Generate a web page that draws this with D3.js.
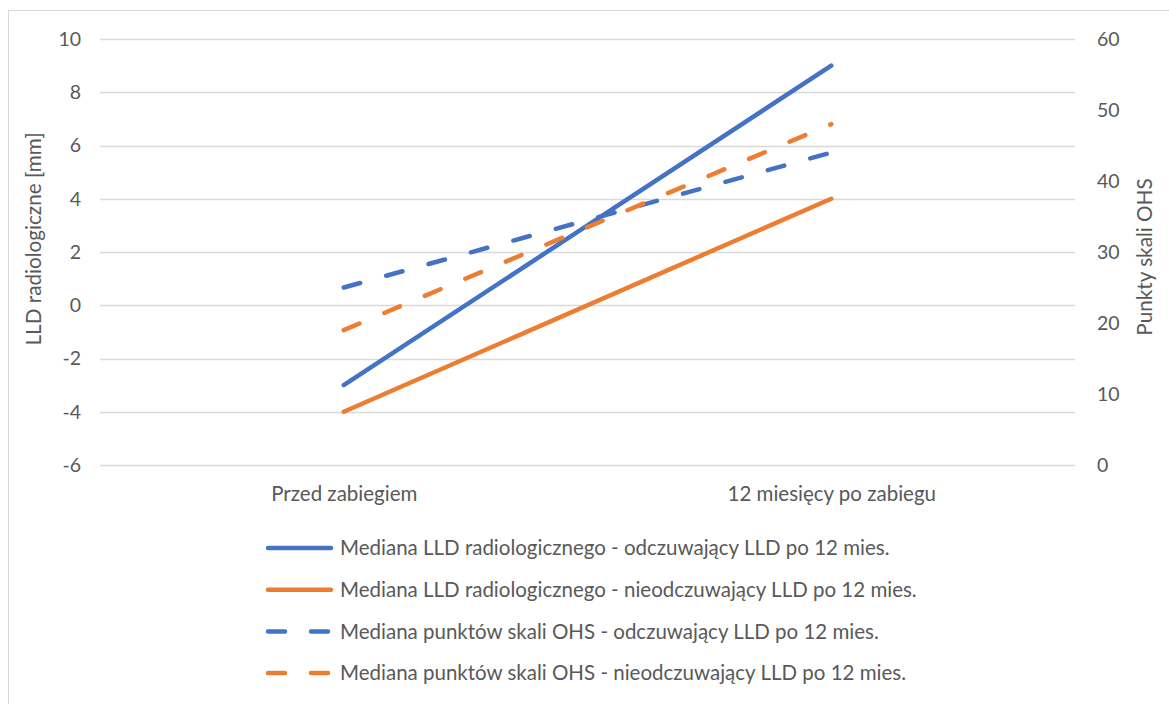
<!DOCTYPE html>
<html>
<head>
<meta charset="utf-8">
<script src="https://cdn.jsdelivr.net/npm/d3@7"></script>
<style>
  body { margin: 0; background: #fff; }
  text { font-family: Lato, "Open Sans", sans-serif; fill: #595959; }
</style>
</head>
<body>
<div id="chart"></div>
<script>
var width = 1169,
height = 704;

var categories = ['Przed zabiegiem', '12 miesięcy po zabiegu'];
var lldYes = [-3, 9];
var lldNo = [-4, 4];
var ohsYes = [25, 44];
var ohsNo = [19, 48];
var leftTicks = [-6, -4, -2, 0, 2, 4, 6, 8, 10];
var rightTicks = [0, 10, 20, 30, 40, 50, 60];

var series = [
  {name: 'Mediana LLD radiologicznego - odczuwający LLD po 12 mies.', values: lldYes, axis: 'left', color: '#4472C4', dash: null},
  {name: 'Mediana LLD radiologicznego - nieodczuwający LLD po 12 mies.', values: lldNo, axis: 'left', color: '#ED7D31', dash: null},
  {name: 'Mediana punktów skali OHS - odczuwający LLD po 12 mies.', values: ohsYes, axis: 'right', color: '#4472C4', dash: '17,27'},
  {name: 'Mediana punktów skali OHS - nieodczuwający LLD po 12 mies.', values: ohsNo, axis: 'right', color: '#ED7D31', dash: '17,27'}
];

var plotL = 100, plotR = 1075, plotT = 39, plotB = 465;

var svg = d3.select('#chart').append('svg')
  .attr('width', width)
  .attr('height', height);

// chart frame
svg.append('rect')
  .attr('x', 8.5).attr('y', 10.5)
  .attr('width', width).attr('height', height)
  .attr('fill', 'none')
  .attr('stroke', '#d9d9d9');

var x = d3.scalePoint().domain(categories).range([plotL, plotR]).padding(0.5);
var yL = d3.scaleLinear().domain([-6, 10]).range([plotB, plotT]);
var yR = d3.scaleLinear().domain([0, 60]).range([plotB, plotT]);

// gridlines
svg.append('g').selectAll('line')
  .data(leftTicks).enter().append('line')
  .attr('x1', plotL).attr('x2', plotR)
  .attr('y1', d => Math.round(yL(d)) + 0.5)
  .attr('y2', d => Math.round(yL(d)) + 0.5)
  .attr('stroke', '#d9d9d9').attr('stroke-width', 1.3);

var yAxisL = d3.axisLeft(yL).tickValues(leftTicks).tickFormat(d => String(d)).tickSize(0).tickPadding(19);
svg.append('g').attr('transform', 'translate(' + plotL + ',0)').call(yAxisL)
  .call(g => g.select('.domain').remove())
  .selectAll('text').style('font-size', '19.5px').style('font-family', 'Lato').attr('fill', '#595959');

var yAxisR = d3.axisRight(yR).tickValues(rightTicks).tickFormat(d => String(d)).tickSize(0).tickPadding(22);
svg.append('g').attr('transform', 'translate(' + plotR + ',0)').call(yAxisR)
  .call(g => g.select('.domain').remove())
  .selectAll('text').style('font-size', '19.5px').style('font-family', 'Lato').attr('fill', '#595959');

var xAxis = d3.axisBottom(x).tickSize(0).tickPadding(21);
svg.append('g').attr('transform', 'translate(0,' + plotB + ')').call(xAxis)
  .call(g => g.select('.domain').remove())
  .selectAll('text').style('font-size', '20.5px').style('font-family', 'Lato').attr('fill', '#595959');

// axis titles
svg.append('text')
  .attr('transform', 'translate(41,239) rotate(-90)')
  .attr('text-anchor', 'middle')
  .style('font-size', '20.7px')
  .text('LLD radiologiczne [mm]');

svg.append('text')
  .attr('transform', 'translate(1152,257) rotate(-90)')
  .attr('text-anchor', 'middle')
  .style('font-size', '20.7px')
  .text('Punkty skali OHS');

// lines
var lineGen = function (s) {
  var sc = s.axis === 'left' ? yL : yR;
  return d3.line().x((d, i) => x(categories[i])).y(d => sc(d))(s.values);
};

svg.append('g').selectAll('path')
  .data(series).enter().append('path')
  .attr('d', d => lineGen(d))
  .attr('fill', 'none')
  .attr('stroke', d => d.color)
  .attr('stroke-width', 4.5)
  .attr('stroke-linecap', 'round')
  .attr('stroke-dasharray', d => d.dash);

// legend
var legend = svg.append('g').selectAll('g')
  .data(series).enter().append('g')
  .attr('transform', (d, i) => 'translate(0,' + (548 + i * 41.7) + ')');

legend.append('line')
  .attr('x1', 268).attr('x2', 331)
  .attr('y1', 0).attr('y2', 0)
  .attr('stroke', d => d.color)
  .attr('stroke-width', 4.5)
  .attr('stroke-linecap', 'round')
  .attr('stroke-dasharray', d => d.dash ? '17,26' : null);

legend.append('text')
  .attr('x', 340).attr('y', 0)
  .attr('dy', '0.35em')
  .style('font-size', '20.5px')
  .text(d => d.name);
</script>
</body>
</html>
